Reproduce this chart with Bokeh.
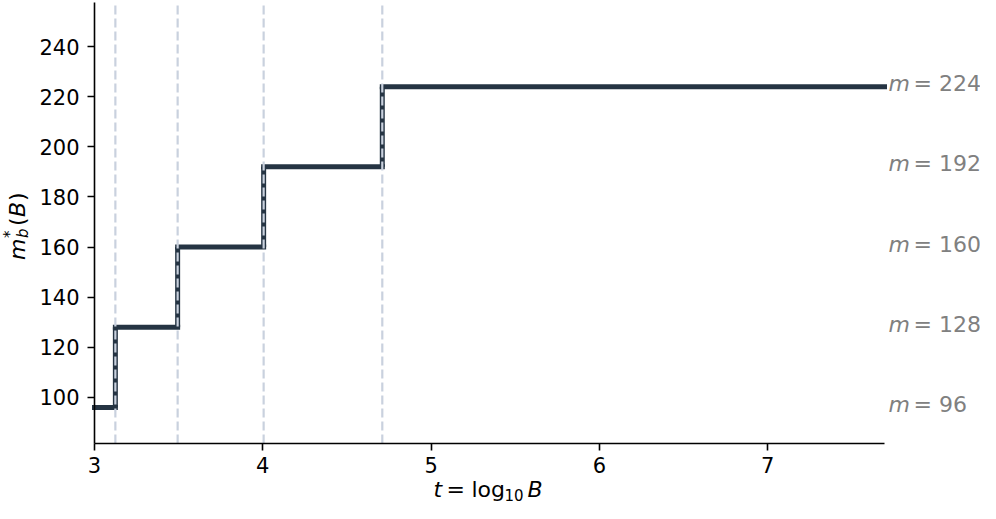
import math
from bokeh.plotting import figure
from bokeh.models import Range1d, Label, FixedTicker
from bokeh.embed import file_html
from bokeh.resources import INLINE

# ---- data ----
step_edges = [3.0, 3.124, 3.494, 4.005, 4.71, 7.694]   # t = log10 B
m_values = [96, 128, 160, 192, 224]
jump_t = [3.124, 3.494, 4.005, 4.71]
x_ticks = [3, 4, 5, 6, 7]
y_ticks = [100, 120, 140, 160, 180, 200, 220, 240]
y_bot, y_top = 81.6, 257.6
label_texts = [f"= {m}" for m in m_values]

# ---- layout (pixels) ----
W, H = 980, 503
AX_L, AX_R = 94, 884      # x pixel of y-axis and end of x-axis
AX_T, AX_B = 2, 443       # y pixel of top of y-axis and of x-axis
BL = 8                    # baseline correction for text

t0, t1 = step_edges[0], step_edges[-1]
xs = (AX_R - AX_L) / (t1 - t0)
ys = (AX_B - AX_T) / (y_top - y_bot)
x_range = Range1d(t0 - AX_L / xs, t0 + (W - AX_L) / xs)
y_range = Range1d(y_bot - (H - AX_B) / ys, y_top + AX_T / ys)

LINE = "#253443"
VLINE = "#c9d1de"
FONT = "DejaVu Sans"
FS = "22px"

p = figure(width=W, height=H, output_backend="svg", toolbar_location=None,
           x_range=x_range, y_range=y_range, min_border=0)
p.outline_line_color = None
p.grid.visible = False
p.background_fill_color = "white"
p.border_fill_color = "white"

for ax in (p.xaxis[0], p.yaxis[0]):
    ax.axis_line_color = "black"
    ax.axis_line_width = 1.6
    ax.major_tick_line_color = "black"
    ax.major_tick_line_width = 1.6
    ax.major_tick_out = 7
    ax.major_tick_in = 0
    ax.minor_tick_line_color = None
    ax.major_label_text_font = FONT
    ax.major_label_text_font_size = "21px"
    ax.major_label_text_color = "black"
p.xaxis.ticker = FixedTicker(ticks=x_ticks)
p.yaxis.ticker = FixedTicker(ticks=y_ticks)
p.xaxis.fixed_location = y_bot
p.yaxis.fixed_location = t0
p.xaxis.bounds = (t0, t1)
p.yaxis.bounds = (y_bot, y_top)
p.xaxis.major_label_standoff = 6
p.yaxis.major_label_standoff = 8

# vertical jumps (solid) and horizontal steps
p.segment(x0=jump_t, x1=jump_t, y0=m_values[:-1], y1=m_values[1:],
          line_color=LINE, line_width=5)
p.segment(x0=step_edges[:-1], x1=step_edges[1:], y0=m_values, y1=m_values,
          line_color=LINE, line_width=5, line_cap="square")

# dashed vertical guides at the jumps (drawn on top)
p.segment(x0=jump_t, x1=jump_t, y0=[y_bot] * len(jump_t), y1=[y_top] * len(jump_t),
          line_color=VLINE, line_width=2.2, line_dash="9 4")

# right-hand labels
for m, txt in zip(m_values, label_texts):
    p.add_layout(Label(x=t1, y=m, x_offset=4, y_offset=-5 + BL, text="m",
                       text_font=FONT, text_font_style="italic", text_font_size=FS,
                       text_color="#808080", text_baseline="alphabetic"))
    p.add_layout(Label(x=t1, y=m, x_offset=29, y_offset=-5 + BL, text=txt,
                       text_font=FONT, text_font_size=FS,
                       text_color="#808080", text_baseline="alphabetic"))

# x axis label: t = log10 B (centred under the axis)
x_mid = (t0 + t1) / 2
start = -56
base = -54 + BL
pieces_x = [("t", 0, 0, "italic", FS), ("=", 13, 0, "normal", FS),
            ("log", 38, 0, "normal", FS), ("10", 71, -5, "normal", "15px"),
            ("B", 94, 0, "italic", FS)]
for txt, dx, dy, style, fs in pieces_x:
    p.add_layout(Label(x=x_mid, y=y_bot, x_offset=start + dx, y_offset=base + dy, text=txt,
                       text_font=FONT, text_font_style=style, text_font_size=fs,
                       text_color="black", text_baseline="alphabetic"))

# y axis label: m_b^*(B), rotated, centred on the axis
y_mid = (y_bot + y_top) / 2
ystart = -37
pieces_y = [("m", -69, 0, "italic", FS), ("b", -64, 22, "italic", "15px"),
            ("*", -77, 22, "normal", "15px"), ("(", -69, 34, "normal", FS),
            ("B", -69, 43, "italic", FS), (")", -69, 59, "normal", FS)]
for txt, dx, dy, style, fs in pieces_y:
    p.add_layout(Label(x=t0, y=y_mid, x_offset=dx - BL, y_offset=ystart + dy, text=txt,
                       angle=math.pi / 2,
                       text_font=FONT, text_font_style=style, text_font_size=fs,
                       text_color="black", text_baseline="alphabetic", text_align="left"))

open("out.html", "w").write(file_html(p, INLINE))
